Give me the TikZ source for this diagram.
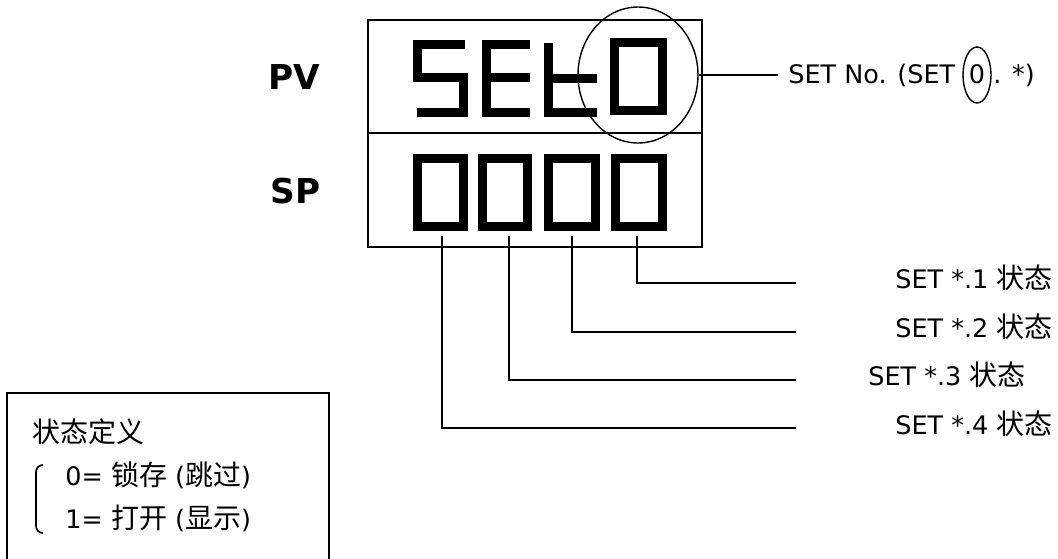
\documentclass[tikz,border=0pt]{standalone}
\usepackage{fontspec}
\setmainfont{DejaVu Sans}
\newfontfamily\zhfont[Scale=1.1]{Noto Sans CJK SC}
\usepackage{tikz}
\usetikzlibrary{positioning,shapes.geometric}
\newcommand{\zh}[1]{{\zhfont #1}}

\begin{document}
\begin{tikzpicture}[x=0.02cm,y=-0.02cm,
    frame/.style={line width=1.1pt},
    seg/.style={line width=0.18cm,line cap=butt,line join=miter},
    lead/.style={line width=0.8pt},
    lbl/.style={inner sep=0,anchor=base west,font=\fontsize{14.5}{17}\selectfont},
    tag/.style={inner sep=0,anchor=base west,font=\fontsize{19.5}{22}\selectfont\bfseries}
  ]
    \useasboundingbox (0,0) rectangle (1058,558);

    % display frame
    \draw[frame] (368,20) rectangle (702,247);
    \draw[line width=1.6pt] (368,133) -- (702,133);
    \node[tag] (pv) at (268,89) {PV};
    \node[tag] (sp) at (270,203) {SP};

    % PV row: S E t 0
    \draw[seg] (465,44.5) -| (417.5,77.5) -| (463.5,112.5) -- (417,112.5);
    \draw[seg] (530,44.5) -- (486.5,44.5) -- (486.5,112.5) -- (530,112.5);
    \draw[seg] (486.5,77.5) -- (530,77.5);
    \draw[seg] (548.5,43) -- (548.5,112.5) -- (597,112.5);
    \draw[seg] (548.5,78.3) -- (597,78.3);
    \draw[seg] (614.5,42.5) rectangle (662.5,110.5);

    % SP row: 0 0 0 0
    \foreach \a/\b in {413/468,478/532,544/600,611/667}
      \draw[seg] (\a+4.5,158.5) rectangle (\b-4.5,226.5);

    % set number
    \node[draw,ellipse,lead,inner sep=0,minimum width=2.4cm,minimum height=2.72cm] (sel) at (638,75) {};
    \coordinate (selend) at (778,75);
    \node[lbl] (setno) at (788,83) {SET No. (SET};
    \node[draw,ellipse,lead,inner sep=0,minimum width=0.56cm,minimum height=1.12cm] (selzero) at (977,75) {};
    \node[lbl] at (selzero.center |- setno.base) [anchor=base] {0};
    \node[lbl] (setrest) at (993,83) {. *)};
    \draw[lead] (sel.east) -- (selend);

    % digit states
    \coordinate (d1) at (637,236);
    \coordinate (d2) at (572,236);
    \coordinate (d3) at (509,236);
    \coordinate (d4) at (442,236);
    \coordinate (e1) at (796,283);
    \coordinate (e2) at (796,332);
    \coordinate (e3) at (796,380);
    \coordinate (e4) at (796,428);
    \node[lbl] (st1) at (895,288) {SET *.1 \zh{状态}};
    \node[lbl] (st2) at (895,337) {SET *.2 \zh{状态}};
    \node[lbl] (st3) at (868,385) {SET *.3 \zh{状态}};
    \node[lbl] (st4) at (895,434) {SET *.4 \zh{状态}};
    \foreach \i in {1,...,4}
      \draw[lead] (d\i) |- (e\i);

    % state definition
    \draw[line width=1.5pt] (7,570) |- (329,393) -- (329,570);
    \node[lbl,anchor=west] (defn) at (32,432) {\zh{状态定义}};
    \node[lbl] (lock) at (65,485) {0= \zh{锁存} (\zh{跳过})};
    \node[lbl] (open) at (65,528) {1= \zh{打开} (\zh{显示})};
    \draw[line width=1pt] (43,465) to[out=180,in=90] (36,472) -- (36,526) to[out=-90,in=180] (43,533);
  \end{tikzpicture}
\end{document}
